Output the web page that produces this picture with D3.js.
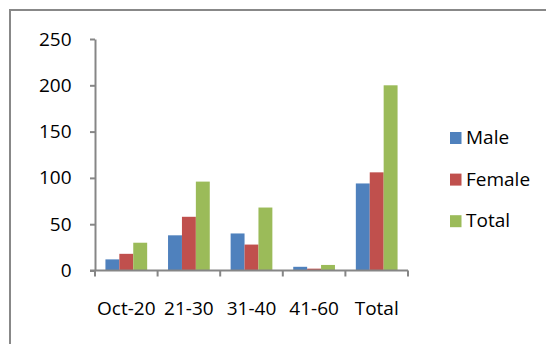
<!DOCTYPE html>
<html>
<head>
<meta charset="utf-8">
<script src="https://cdn.jsdelivr.net/npm/d3@7"></script>
<style>
  html, body { margin: 0; padding: 0; background: #fff; }
  svg { display: block; }
  text { font-family: "Open Sans", sans-serif; fill: #000; }
</style>
</head>
<body>
<svg id="chart" width="546" height="344"></svg>
<script>
// Age groups and counts by sex
const categories = ["Oct-20", "21-30", "31-40", "41-60", "Total"];
const seriesNames = ["Male", "Female", "Total"];
const maleValues = [12, 38, 40, 4, 94];
const femaleValues = [18, 58, 28, 2, 106];
const totalValues = [30, 96, 68, 6, 200];
const yTicks = [0, 50, 100, 150, 200, 250];
const colors = ["#4F81BD", "#C0504D", "#9BBB59"];

const series = [maleValues, femaleValues, totalValues];

const svg = d3.select("#chart");
const axisColor = "#868686";

// Outer chart frame (runs past the right and bottom edges)
svg.append("rect")
  .attr("x", 10).attr("y", 10)
  .attr("width", 700).attr("height", 500)
  .attr("fill", "none")
  .attr("stroke", "#888")
  .attr("stroke-width", 2);

const plot = { left: 95, right: 408, top: 39, bottom: 270.5 };

const x = d3.scaleBand().domain(categories).range([plot.left, plot.right]).padding(0);
const y = d3.scaleLinear().domain([0, 250]).range([plot.bottom, plot.top]);

// Bars: three per group with a 150% gap
const step = x.bandwidth();
const barW = step / 4.5;
const xs = d3.scaleBand().domain(d3.range(series.length))
  .range([0.75 * barW, step - 0.75 * barW]).padding(0);

const groups = svg.append("g").selectAll("g")
  .data(categories)
  .join("g")
  .attr("transform", d => `translate(${x(d)},0)`);

groups.selectAll("rect")
  .data((d, i) => series.map((s, k) => ({ k, v: s[i] })))
  .join("rect")
  .attr("x", d => xs(d.k))
  .attr("width", xs.bandwidth())
  .attr("y", d => y(d.v))
  .attr("height", d => y(0) - y(d.v))
  .attr("fill", d => colors[d.k]);

// Y axis
const yAxis = svg.append("g")
  .attr("transform", `translate(${plot.left},0)`)
  .call(d3.axisLeft(y).tickValues(yTicks).tickSize(5).tickSizeOuter(0).tickPadding(18.5).tickFormat(d3.format("d")));
yAxis.select(".domain").attr("stroke", axisColor).attr("stroke-width", 2);
yAxis.selectAll(".tick line").attr("stroke", axisColor).attr("stroke-width", 2);
yAxis.selectAll(".tick text")
  .attr("font-family", "Open Sans, sans-serif")
  .attr("font-size", 19)
  .attr("fill", "#000");

// X axis: line with tick marks on the category boundaries
const xg = svg.append("g");
xg.append("line")
  .attr("x1", plot.left - 5).attr("x2", plot.right)
  .attr("y1", plot.bottom).attr("y2", plot.bottom)
  .attr("stroke", axisColor).attr("stroke-width", 2);
const boundaries = categories.map(c => x(c)).concat([x(categories[categories.length - 1]) + step]);
xg.selectAll("line.tk")
  .data(boundaries)
  .join("line")
  .attr("class", "tk")
  .attr("x1", d => d).attr("x2", d => d)
  .attr("y1", plot.bottom).attr("y2", plot.bottom + 6)
  .attr("stroke", axisColor).attr("stroke-width", 2);
xg.selectAll("text")
  .data(categories)
  .join("text")
  .attr("x", d => x(d) + step / 2)
  .attr("y", 315)
  .attr("text-anchor", "middle")
  .attr("font-size", 19)
  .text(d => d);

// Legend
const legendTop = 132;
const legendGap = 41.6;
const legend = svg.append("g").selectAll("g")
  .data(seriesNames)
  .join("g")
  .attr("transform", (d, i) => `translate(450,${legendTop + i * legendGap})`);
legend.append("rect")
  .attr("width", 11.5).attr("height", 12)
  .attr("fill", (d, i) => colors[i]);
legend.append("text")
  .attr("x", 16).attr("y", 12)
  .attr("font-size", 19)
  .text(d => d);
</script>
</body>
</html>
